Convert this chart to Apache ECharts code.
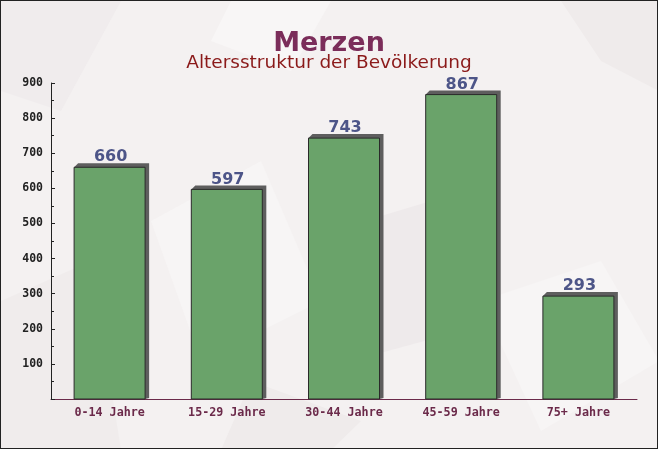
<!DOCTYPE html>
<html><head><meta charset="utf-8">
<script src="https://cdn.jsdelivr.net/npm/echarts@6/dist/echarts.min.js"></script>
<style>html,body{margin:0;padding:0;background:#f4f1f1}#c{width:658px;height:449px;box-sizing:border-box;border:1px solid #222}</style>
</head><body><div id="c"></div>
<script>
const categories = ['0-14 Jahre','15-29 Jahre','30-44 Jahre','45-59 Jahre','75+ Jahre'];
const values = [660, 597, 743, 867, 293];
const yTicks = [0,100,200,300,400,500,600,700,800,900];

const chart = echarts.init(document.getElementById('c'));
const BW = 71, D = 4;
function bg(points, color){ return {type:'polygon', silent:true, z:-10, shape:{points}, style:{fill:color}}; }
chart.setOption({
  backgroundColor: '#f4f1f1',
  graphic: [
    bg([[0,0],[120,0],[60,110],[0,90]], '#f0eced'),
    bg([[230,0],[330,0],[290,70],[210,40]], '#f8f6f6'),
    bg([[560,0],[658,0],[658,90],[600,60]], '#efebeb'),
    bg([[150,220],[260,160],[320,300],[200,360]], '#f7f5f5'),
    bg([[330,230],[430,200],[460,330],[350,360]], '#eeeaeb'),
    bg([[0,300],[90,260],[120,449],[0,449]], '#f0ecec'),
    bg([[480,300],[600,260],[658,360],[540,430]], '#f7f5f5'),
    bg([[250,380],[360,420],[330,449],[220,449]], '#efebeb')
  ],
  title: [
    {text: 'Merzen', left: 'center', top: 24, textStyle:{fontFamily:'DejaVu Sans', fontWeight:'bold', fontSize:27, color:'#7b2d5a'}},
    {text: 'Altersstruktur der Bevölkerung', left: 'center', top: 48, textStyle:{fontFamily:'DejaVu Sans', fontWeight:'normal', fontSize:18.5, color:'#8b1a1a'}}
  ],
  grid: {left: 50, right: 20, top: 82, bottom: 49},
  xAxis: {
    type: 'category', data: categories,
    axisLine: {lineStyle:{color:'#6b2a4a', width:1}},
    axisTick: {inside: true, length: 5, lineStyle:{color:'#6b2a4a'}},
    axisLabel: {fontFamily:'DejaVu Sans Mono', fontWeight:'bold', fontSize:11.7, color:'#6b2a4a', margin: 8}
  },
  yAxis: {
    type: 'value', min: 0, max: 900, interval: 100,
    axisLine: {show:true, lineStyle:{color:'#222'}},
    axisTick: {show:true, inside:true, length:4, lineStyle:{color:'#222'}},
    minorTick: {show:true, splitNumber:2, length:3, lineStyle:{color:'#222'}},
    splitLine: {show:false},
    axisLabel: {fontFamily:'DejaVu Sans Mono', fontWeight:'bold', fontSize:11.5, color:'#222', margin: 8,
      formatter: v => (v === 0 ? '' : String(v))}
  },
  series: [{
    type: 'custom',
    data: values.map((v,i)=>[i,v]),
    encode: {x:0, y:1},
    renderItem: function(params, api){
      const top = api.coord([api.value(0), api.value(1)]);
      const base = api.coord([api.value(0), 0]);
      const x0 = top[0] - BW/2, x1 = top[0] + BW/2, yt = top[1], yb = base[1];
      return {type:'group', children:[
        {type:'polygon', shape:{points:[[x0,yt],[x0+D,yt-D],[x1+D,yt-D],[x1+D,yb-1],[x1,yb]]}, style:{fill:'#5e5e5e'}},
        {type:'rect', shape:{x:x0, y:yt, width:BW, height:yb-yt}, style:{fill:'#6aa36a', stroke:'#2a2a2a', lineWidth:1}},
        {type:'text', style:{text:String(api.value(1)), x:top[0]+1, y:yt-2, align:'center', verticalAlign:'bottom',
          font:'bold 16px "DejaVu Sans"', fill:'#4d5588'}}
      ]};
    }
  }]
});
</script></body></html>
